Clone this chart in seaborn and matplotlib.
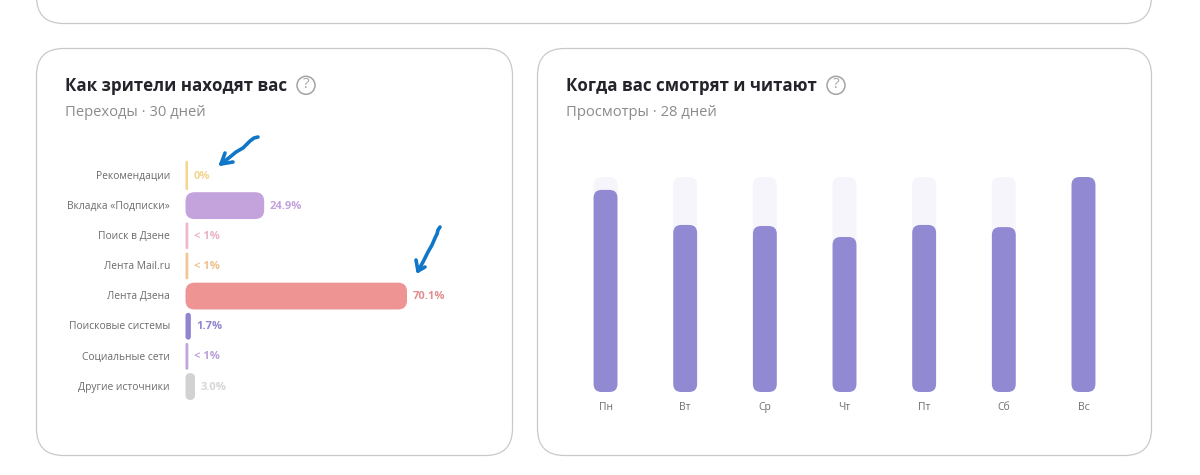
import matplotlib
matplotlib.use("Agg")
import matplotlib.pyplot as plt
from matplotlib.patches import FancyBboxPatch, Circle
from matplotlib.lines import Line2D
from matplotlib.transforms import ScaledTranslation
import pandas as pd
import seaborn as sns

# Traffic sources: share of visits, percent
sources = ["Рекомендации", "Вкладка «Подписки»", "Поиск в Дзене", "Лента Mail.ru",
           "Лента Дзена", "Поисковые системы", "Социальные сети", "Другие источники"]
shares = [0, 24.9, 0.9, 0.9, 70.1, 1.7, 0.9, 3.0]
share_labels = ["0%", "24.9%", "< 1%", "< 1%", "70.1%", "1.7%", "< 1%", "3.0%"]
source_colors = ["#f6d58c", "#c4a3dc", "#eeb9cb", "#f2c796", "#ee9594", "#8f85d0", "#c0a6dc", "#d2d2d2"]
label_colors = ["#f3d592", "#c4a3dc", "#e9b3c4", "#eec08c", "#e08e8e", "#8f85d0", "#bba2d8", "#d6d6d6"]

# Views per weekday, percent of the busiest day
days = ["Пн", "Вт", "Ср", "Чт", "Пт", "Сб", "Вс"]
views = [94.0, 77.7, 77.2, 72.1, 77.7, 76.7, 100.0]
track_max = [100.0] * len(days)

W, H = 1200, 475
FONT = ["Open Sans", "DejaVu Sans"]
sns.set_theme(style="white")
plt.rcParams["font.family"] = FONT

fig = plt.figure(figsize=(W / 100, H / 100), dpi=100, facecolor="white")


def px_axes(x0, y0, x1, y1, **kw):
    """Axes placed by pixel box, with y counted from the top of the figure."""
    return fig.add_axes([x0 / W, 1 - y1 / H, (x1 - x0) / W, (y1 - y0) / H], **kw)


# Page layer in pixel coordinates: cards, headings, help icons, pen strokes
page = px_axes(0, 0, W, H)
page.set_xlim(0, W)
page.set_ylim(H, 0)
page.axis("off")


def card(x0, y0, x1, y1, r=27):
    page.add_patch(FancyBboxPatch((x0, y0), x1 - x0, y1 - y0,
                                  boxstyle=f"round,pad=0,rounding_size={r}",
                                  fc="white", ec="#c9c9c9", lw=0.9, clip_on=True))


card(36.5, -60, 1151.5, 23.5)
card(36.5, 48.5, 512.5, 455.5)
card(537.5, 48.5, 1151.5, 455.5)


def heading(x, title, sub, icon_x):
    page.text(x, 86, title, fontsize=12.2, fontweight="bold", color="#24232a", va="center", ha="left")
    page.text(x, 112, sub, fontsize=10.6, color="#8b8b8b", va="center", ha="left")
    page.add_patch(Circle((icon_x, 85.3), 9, fc="none", ec="#a3a3a3", lw=1.1))
    page.text(icon_x, 85, "?", fontsize=11, color="#a3a3a3", ha="center", va="center")


heading(65, "Как зрители находят вас", "Переходы · 30 дней", 306)
heading(566, "Когда вас смотрят и читают", "Просмотры · 28 дней", 836)

# Hand-drawn arrows over the source chart
PEN = "#0f76c8"
strokes = [
    [(258, 137), (254, 138), (250, 141), (243, 148), (236, 152), (230, 157), (221, 164)],
    [(221, 164), (225, 153)],
    [(221, 164), (233, 162)],
    [(440, 227), (438, 230), (437, 234), (435, 238), (432, 245), (428, 252), (423, 262), (418, 271)],
    [(418, 271), (416, 260)],
    [(418, 271), (425, 267)],
]
for s in strokes:
    xs, ys = zip(*s)
    page.add_line(Line2D(xs, ys, color=PEN, lw=2.6, solid_capstyle="round", solid_joinstyle="round"))


def round_bars(ax, bars, radius_px, colors, min_edge=None):
    """Swap seaborn's rectangles for rounded ones of the same extent."""
    fig.canvas.draw()
    to_px = ax.transData.transform
    (x0, y0), (x1, y1) = to_px([(0, 0), (1, 1)])
    sx, sy = abs(x1 - x0), abs(y1 - y0)
    for bar, color in zip(bars, colors):
        x, y, w, h = bar.get_x(), bar.get_y(), bar.get_width(), bar.get_height()
        w_px, h_px = w * sx, abs(h) * sy
        r = min(radius_px, w_px / 2, h_px / 2)
        # An empty bar still shows as a hairline pill starting at the baseline
        edge = min_edge if (min_edge and w_px < min_edge) else 0
        patch = FancyBboxPatch((x, y), w, h,
                               boxstyle=f"round,pad=0,rounding_size={r / sx}",
                               mutation_aspect=sx / sy,
                               fc=color, ec=color if edge else "none",
                               lw=edge * 0.72, capstyle="round", zorder=bar.get_zorder(),
                               clip_on=False)
        ax.add_patch(patch)
        if edge:
            patch.set_transform(ax.transData + ScaledTranslation(edge / 200, 0, fig.dpi_scale_trans))
        bar.remove()


# Left chart: horizontal bars, 3.16 px per percent
left = px_axes(185.5, 160.4, 185.5 + 316, 401.6)
left.patch.set_alpha(0)
src_df = pd.DataFrame({"source": sources, "share": shares})
sns.barplot(data=src_df, x="share", y="source", hue="source", palette=source_colors,
            legend=False, width=0.89, ax=left, orient="h", saturation=1)
left.set_xlim(0, 100)
left.set_ylim(len(sources) - 0.5, -0.5)
left.set_xlabel("")
left.set_ylabel("")
left.xaxis.set_visible(False)
left.tick_params(axis="y", length=0, pad=11.2, labelsize=7.4, labelcolor="#6b6b6b")
raise_label = ScaledTranslation(0, 0.009, fig.dpi_scale_trans)
for lbl in left.get_yticklabels():
    lbl.set_verticalalignment("center_baseline")
    lbl.set_transform(lbl.get_transform() + raise_label)
sns.despine(ax=left, left=True, bottom=True)
src_bars = list(left.patches)[:len(sources)]
round_bars(left, src_bars, 9, source_colors, min_edge=2.5)
for i, (v, txt, c) in enumerate(zip(shares, share_labels, label_colors)):
    left.annotate(txt, (v, i), xytext=(max(3 - v * 3.16, 0) * 0.72 + 3.9, 0.7), textcoords="offset points",
                  color=c, fontsize=8, fontweight="bold", va="center_baseline", ha="left")

# Right chart: weekday columns over pale full-height tracks
right = px_axes(565.7, 177, 1123.3, 392)
right.patch.set_alpha(0)
day_df = pd.DataFrame({"day": days, "views": views, "track": track_max})
sns.barplot(data=day_df, x="day", y="track", color="#f6f5fb", width=0.30, ax=right, saturation=1)
n_track = len(right.patches)
sns.barplot(data=day_df, x="day", y="views", color="#9189d2", width=0.30, ax=right, saturation=1)
right.set_ylim(0, 100)
right.set_xlim(-0.5, len(days) - 0.5)
right.set_xlabel("")
right.set_ylabel("")
right.yaxis.set_visible(False)
right.tick_params(axis="x", length=0, pad=7.5, labelsize=7.5, labelcolor="#6f6f6f")
sns.despine(ax=right, left=True, bottom=True)
patches = list(right.patches)
round_bars(right, patches[:n_track], 8, ["#f6f5fb"] * n_track)
round_bars(right, patches[n_track:], 8, ["#9189d2"] * (len(patches) - n_track))

fig.savefig("out.png", dpi=100, facecolor="white")
